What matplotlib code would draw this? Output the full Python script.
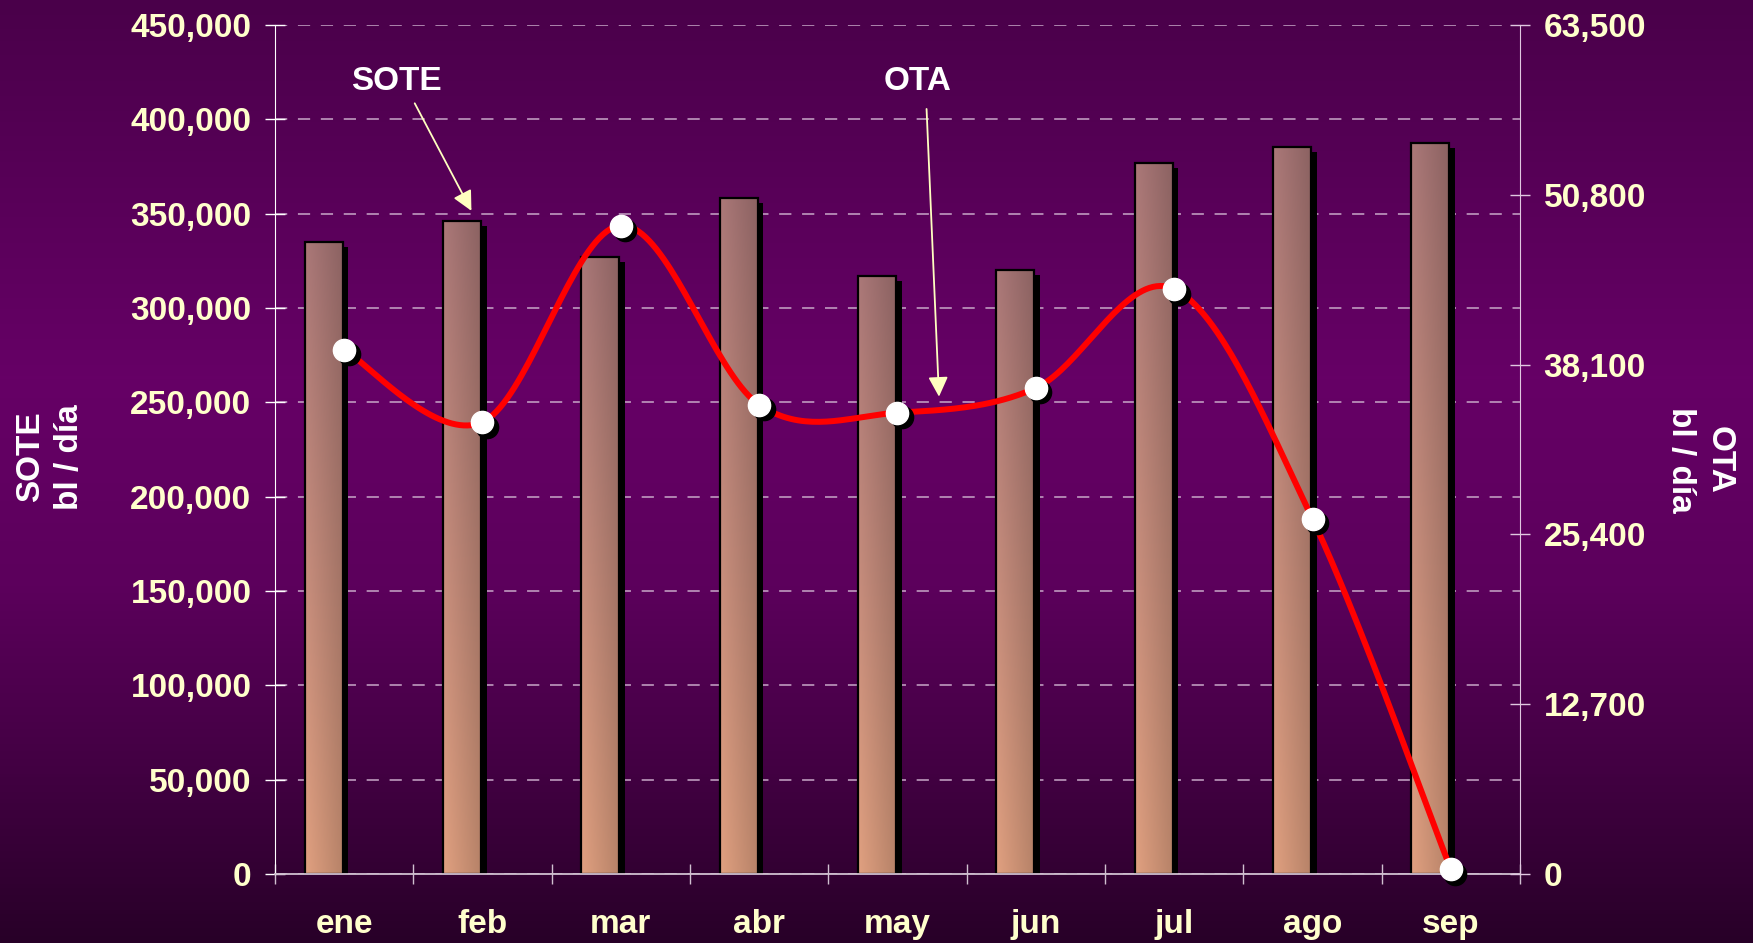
import numpy as np
import matplotlib
matplotlib.use('Agg')
import matplotlib.pyplot as plt
import matplotlib.patheffects as pe
from matplotlib.colors import LinearSegmentedColormap
from matplotlib.transforms import offset_copy

plt.rcParams['font.family'] = ['Liberation Sans', 'DejaVu Sans']
plt.rcParams['font.weight'] = 'bold'

months = ['ene', 'feb', 'mar', 'abr', 'may', 'jun', 'jul', 'ago', 'sep']
sote = [335000, 346000, 327000, 358500, 317000, 320000, 376800, 385300, 387200]
ota = [39200, 33800, 48500, 35100, 34500, 36350, 43750, 26550, 350]
left_ticks = list(range(0, 450001, 50000))
right_ticks = [0, 12700, 25400, 38100, 50800, 63500]

tick_col = '#ffffcc'
fs = 24

fig = plt.figure(figsize=(17.53, 9.43), dpi=100)

# background gradient
bg = fig.add_axes([0, 0, 1, 1], zorder=-5)
bg_cmap = LinearSegmentedColormap.from_list('bg', [
    (0.0, '#4a004a'), (0.40, '#660066'), (0.62, '#5c005c'),
    (0.82, '#420042'), (1.0, '#280028')])
bg.imshow(np.linspace(0, 1, 256).reshape(-1, 1), cmap=bg_cmap, aspect='auto',
          extent=(0, 1, 1, 0))
bg.set_axis_off()

ax = fig.add_axes([275 / 1753, 69 / 943, 1245 / 1753, 849 / 943])
ax.set_facecolor('none')
x = np.arange(len(months))

# bars (SOTE)
bar_left = x - 0.285
bw = 0.275
bars = ax.bar(bar_left, sote, width=bw, align='edge', color='#b08070',
              linewidth=0, zorder=2,
              path_effects=[pe.SimplePatchShadow(offset=(4, -3.6), shadow_rgbFace='k', alpha=1.0),
                            pe.Normal()])

# shading inside each bar
h = np.linspace(0, 1, 64)
v = np.linspace(0, 1, 128)
top = np.array([0.64, 0.45, 0.45])
bot = np.array([0.84, 0.60, 0.48])
grad = (v[:, None, None] * top + (1 - v[:, None, None]) * bot)
grad = grad * (1.05 - 0.2 * h[None, :, None])
grad = np.clip(grad, 0, 1)
for b in bars:
    im = ax.imshow(grad, extent=(b.get_x(), b.get_x() + b.get_width(), 0, b.get_height()),
                   origin='lower', aspect='auto', zorder=2.1, interpolation='bilinear')
    im.set_clip_path(b)
ax.bar(bar_left, sote, width=bw, align='edge', fill=False, edgecolor='black',
       linewidth=1.6, zorder=2.2)

ax.set_xlim(-0.5, len(months) - 0.5)
ax.set_ylim(0, 450000)
ax.set_yticks(left_ticks)
ax.set_yticklabels([f'{t:,}' for t in left_ticks])
ax.set_xticks(np.arange(-0.5, len(months), 1.0))
ax.set_xticklabels([])
ax.set_xticks(x, minor=True)
ax.set_xticklabels(months, minor=True)
ax.tick_params(axis='x', which='major', direction='inout', length=14, width=1, color='#d0c0d0')
ax.tick_params(axis='x', which='minor', length=0, pad=25, labelsize=fs, labelcolor=tick_col)
ax.tick_params(axis='y', direction='inout', length=14, width=1, color='white',
               labelsize=fs, labelcolor=tick_col, pad=10)
ax.grid(axis='y', color='#c8a8c8', linestyle=(0, (8, 7)), linewidth=1.1, zorder=0)
ax.set_axisbelow(True)
for s in ['top', 'right']:
    ax.spines[s].set_visible(False)
ax.spines['left'].set_color('white')
ax.spines['bottom'].set_color('#d0c0d0')
ax.spines['bottom'].set_linewidth(1.3)

# annotations
ax.text(0.375, 419800, 'SOTE', color='white', fontsize=fs, ha='center', va='center', zorder=6)
ax.annotate('', xy=(0.92, 351500), xytext=(0.51, 408500),
            arrowprops=dict(arrowstyle='-|>', color='#ffffc0', lw=1.3, mutation_scale=30,
                            shrinkA=0, shrinkB=0), zorder=6)
ax.text(4.148, 419800, 'OTA', color='white', fontsize=fs, ha='center', va='center', zorder=6)
ax.annotate('', xy=(4.30, 253000), xytext=(4.21, 405500),
            arrowprops=dict(arrowstyle='-|>', color='#ffffc0', lw=1.3, mutation_scale=30,
                            shrinkA=0, shrinkB=0), zorder=6)

fig.text(50 / 1753, 1 - 457 / 943, 'SOTE\nbl / día', color='white', fontsize=fs,
         rotation=90, ha='center', va='center', multialignment='center', linespacing=1.3)
fig.text(1700 / 1753, 1 - 460 / 943, 'OTA\nbl / día', color='white', fontsize=fs,
         rotation=270, ha='center', va='center', multialignment='center', linespacing=1.3)

# OTA line on the right axis
ax2 = ax.twinx()
ax2.set_ylim(0, 63500)
ax2.set_yticks(right_ticks)
ax2.set_yticklabels([f'{t:,}' for t in right_ticks])
ax2.tick_params(axis='y', direction='inout', length=14, width=1, color='#e0c8e0',
                labelsize=fs, labelcolor=tick_col, pad=10)
for s in ['top', 'left', 'bottom']:
    ax2.spines[s].set_visible(False)
ax2.spines['right'].set_color('#e0c8e0')

# smoothed curve through the points (Catmull-Rom style Bezier)
px = x.astype(float)
py = np.array(ota, dtype=float)
n = len(px)
cx, cy = [], []
t = np.linspace(0, 1, 40)
for i in range(n - 1):
    p0 = np.array([px[max(i - 1, 0)], py[max(i - 1, 0)]])
    p1 = np.array([px[i], py[i]])
    p2 = np.array([px[i + 1], py[i + 1]])
    p3 = np.array([px[min(i + 2, n - 1)], py[min(i + 2, n - 1)]])
    c1 = p1 + (p2 - p0) / 6
    c2 = p2 - (p3 - p1) / 6
    pts = ((1 - t)[:, None] ** 3 * p1 + 3 * ((1 - t) ** 2 * t)[:, None] * c1
           + 3 * ((1 - t) * t ** 2)[:, None] * c2 + (t ** 3)[:, None] * p2)
    cx.extend(pts[:, 0])
    cy.extend(pts[:, 1])
ax2.plot(cx, cy, color='#ff0000', linewidth=4.3, solid_capstyle='round', zorder=3, clip_on=False)
shadow_tr = offset_copy(ax2.transData, fig=fig, x=3.2, y=-3.2, units='points')
ax2.plot(px, py, 'o', color='black', markersize=16, transform=shadow_tr, zorder=3.5, clip_on=False)
ax2.plot(px, py, 'o', color='white', markersize=16, markeredgecolor='white', zorder=4, clip_on=False)

fig.savefig('out.png', dpi=100)
